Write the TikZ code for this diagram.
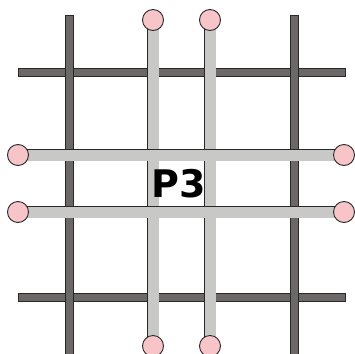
\documentclass[tikz,border=0pt]{standalone}
\usepackage{fontspec}
\usepackage{tikz}
\usetikzlibrary{positioning}
\newfontfamily\gridfont{DejaVu Sans}
\definecolor{barlight}{RGB}{200, 200, 198}
\definecolor{bardark}{RGB}{108, 104, 104}
\definecolor{studpink}{RGB}{247, 196, 200}
\definecolor{edgegray}{RGB}{40, 40, 40}

\begin{document}
\begin{tikzpicture}[
    x=1pt, y=-1pt,
    darkbar/.style={draw=edgegray, fill=bardark, line width=0.9pt},
    lightbar/.style={draw=edgegray, line width=0.9pt, double=barlight, double distance=11pt},
    stud/.style={draw=edgegray, fill=studpink, circle, line width=0.9pt, minimum size=21pt, inner sep=0pt},
    tag/.style={font=\gridfont\bfseries\fontsize{38}{40}\selectfont, text=black}
]
    \useasboundingbox (0, 0) rectangle (355, 353);
    \clip (0, 0) rectangle (355, 353);

    % dark grid
    \filldraw [darkbar] (18, 68) rectangle (345, 76);
    \filldraw [darkbar] (18, 293) rectangle (345, 301);
    \filldraw [darkbar] (65, 15) rectangle (73, 362);
    \filldraw [darkbar] (290, 15) rectangle (298, 362);

    % end points of the light bars
    \coordinate (top_a) at (153, 20);
    \coordinate (top_b) at (210, 20);
    \coordinate (bot_a) at (153, 346);
    \coordinate (bot_b) at (210, 346);
    \coordinate (left_a) at (18, 155);
    \coordinate (left_b) at (18, 212);
    \coordinate (right_a) at (344, 155);
    \coordinate (right_b) at (344, 212);

    \draw [lightbar] (top_a) -- (bot_a);
    \draw [lightbar] (top_b) -- (bot_b);
    \draw [lightbar] (left_a) -- (right_a);
    \draw [lightbar] (left_b) -- (right_b);

    \foreach \p in {top_a, top_b, bot_a, bot_b, left_a, left_b, right_a, right_b}
        \node [stud] (s_\p) at (\p) {};

    \node [tag] (label) at (179, 184) {P3};

\end{tikzpicture}
\end{document}
